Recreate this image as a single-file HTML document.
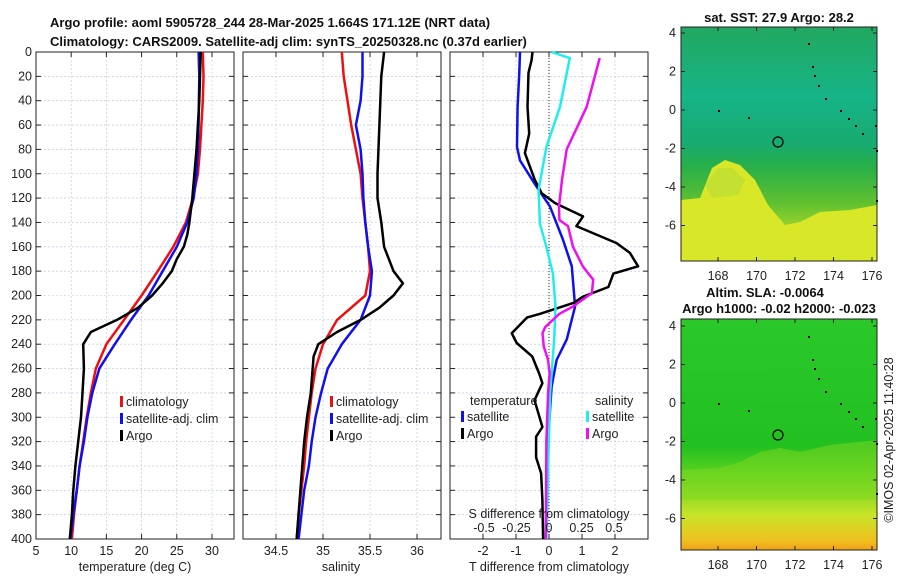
<!DOCTYPE html>
<html><head><meta charset="utf-8"><style>
body{margin:0;background:#fff;}
svg{display:block;font-family:"Liberation Sans","DejaVu Sans",sans-serif;}
.t{font-size:12.5px;fill:#222;}
.b{font-size:13px;font-weight:bold;fill:#111;}
</style></head><body>
<svg id="c" width="900" height="580" viewBox="0 0 900 580">
<text class="b" x="50" y="27">Argo profile: aoml 5905728_244 28-Mar-2025 1.664S 171.12E (NRT data)</text>
<text class="b" x="50" y="46">Climatology: CARS2009. Satellite-adj clim: synTS_20250328.nc (0.37d earlier)</text>
<g id="maps">
<defs>
<linearGradient id="g1" x1="0" y1="0" x2="0" y2="1">
<stop offset="0" stop-color="#22a860"/><stop offset="0.3" stop-color="#16b488"/><stop offset="0.5" stop-color="#18aa70"/><stop offset="0.6" stop-color="#28b048"/><stop offset="0.75" stop-color="#60c030"/><stop offset="1" stop-color="#e6ec28"/></linearGradient>
<linearGradient id="g2" x1="0" y1="0" x2="0" y2="1">
<stop offset="0" stop-color="#2ac828"/><stop offset="0.55" stop-color="#22c020"/><stop offset="0.68" stop-color="#60d420"/><stop offset="0.85" stop-color="#c8e428"/><stop offset="0.96" stop-color="#f0c020"/><stop offset="1" stop-color="#f0a018"/></linearGradient>
</defs>
<rect x="681" y="27" width="196" height="234" fill="url(#g1)"/>
<path d="M681,200 L700,198 L712,168 L725,160 L740,165 L755,180 L768,205 L785,225 L800,222 L820,212 L850,210 L877,205 L877,261 L681,261Z" fill="#d8e828"/>
<path d="M705,185 L718,168 L732,168 L745,180 L738,195 L712,198Z" fill="#c4e030"/>
<rect x="681" y="27" width="196" height="234" fill="none" stroke="#222" stroke-width="1"/>
<text class="b" x="779" y="22" text-anchor="middle">sat. SST: 27.9 Argo: 28.2</text>
<rect x="681" y="319" width="196" height="231" fill="url(#g2)"/>
<path d="M681,470 L720,468 L740,462 L760,452 L780,448 L800,452 L830,445 L877,440 L877,500 L681,500Z" fill="#80d820" opacity="0.5"/>
<rect x="681" y="319" width="196" height="231" fill="none" stroke="#222" stroke-width="1"/>
<text class="b" x="765" y="297" text-anchor="middle">Altim. SLA: -0.0064</text>
<text class="b" x="779" y="313" text-anchor="middle">Argo h1000: -0.02 h2000: -0.023</text>
<circle cx="778" cy="142" r="5" fill="none" stroke="#000" stroke-width="1.2"/>
<circle cx="778" cy="435" r="5" fill="none" stroke="#000" stroke-width="1.2"/>
<text class="t" x="893" y="440" transform="rotate(-90 893 440)" text-anchor="middle">©IMOS 02-Apr-2025 11:40:28</text>
</g>
<g id="plots"></g>
</svg>
<script>
const depths=[0,20,40,60,80,100,120,140,160,180,200,220,240,260,280,300,320,340,360,380,400];
const tClim=[28.7,28.8,28.7,28.5,28.3,28.0,27.3,26.3,24.5,22.3,20.0,17.5,15.0,13.5,12.8,12.2,11.7,11.2,10.8,10.4,10.1];
const tSat=[28.1,28.2,28.15,28.1,28.0,27.8,27.4,26.5,25.0,23.0,21.0,18.5,16.2,14.0,13.0,12.3,11.8,11.2,10.8,10.3,9.9];
const argoTDepth=[0,20,40,60,80,100,120,140,150,160,170,180,190,200,210,220,230,240,260,280,300,320,340,360,380,400];
const argoT=[28.4,28.3,28.2,28.0,27.8,27.5,27.2,26.8,26.5,26.0,25.0,24.3,23.0,21.5,19.5,16.5,12.8,11.7,11.8,11.6,11.4,11.0,10.6,10.3,10.1,9.8];
const sClim=[35.2,35.22,35.26,35.3,35.35,35.4,35.42,35.45,35.48,35.5,35.45,35.15,35.0,34.92,34.88,34.85,34.82,34.8,34.77,34.74,34.72];
const sSat=[35.42,35.42,35.4,35.35,35.4,35.42,35.43,35.45,35.48,35.52,35.5,35.4,35.2,35.05,34.98,34.92,34.88,34.85,34.8,34.77,34.74];
const argoSDepth=[0,20,60,100,120,140,160,180,190,200,210,220,230,240,250,280,300,320,340,360,400];
const argoS=[35.65,35.62,35.6,35.58,35.58,35.62,35.65,35.75,35.85,35.75,35.6,35.4,35.15,34.95,34.9,34.87,34.83,34.8,34.78,34.76,34.72];
const dTDepth=[0,17,45,78,89,111,127,154,176,209,236,253,275,319,384,400];
const dTSat=[-0.88,-0.9,-0.95,-0.97,-0.88,-0.37,0.03,0.42,0.69,0.79,0.54,0.23,0.08,-0.03,-0.09,-0.1];
const dTArgoDepth=[0,7,17,45,67,83,105,116,124,135,143,157,165,176,182,193,201,206,215,218,231,239,250,264,272,286,308,316,333,346,368,400];
const dTArgo=[-0.5,-0.53,-0.62,-0.65,-0.6,-0.73,-0.43,-0.22,0.18,1.03,0.83,2.05,2.45,2.7,1.95,1.8,1.03,0.75,-0.27,-0.66,-1.13,-0.98,-0.51,-0.3,-0.2,-0.44,-0.2,-0.39,-0.39,-0.24,-0.2,-0.18];
const dSSatDepth=[0,5,45,78,113,141,160,182,209,236,278,333,400];
const dSSat=[0.02,0.16,0.085,-0.02,-0.08,-0.07,-0.02,0.03,0.05,0.04,0.01,-0.005,-0.02];
const dSArgoDepth=[5,45,80,105,127,138,143,160,176,187,198,209,215,226,231,242,253,264,280,319,400];
const dSArgo=[0.39,0.29,0.136,0.1,0.077,0.08,0.146,0.185,0.26,0.34,0.33,0.185,0.08,-0.03,-0.05,-0.04,-0.007,0.005,-0.007,-0.02,-0.025];
const depthTicks=[0,20,40,60,80,100,120,140,160,180,200,220,240,260,280,300,320,340,360,380,400];
const tTicks=[5,10,15,20,25,30];
const sTicks=[34.5,35,35.5,36];
const dtTicks=[-2,-1,0,1,2];
const dsTicks=[-0.5,-0.25,0,0.25,0.5];
const dsTickLabels=["-0.5","-0.25","0","0.25","0.5"];
const latTicks=[4,2,0,-2,-4,-6];
const lonTicks=[168,170,172,174,176];

const NS="http://www.w3.org/2000/svg";
const G=document.getElementById('plots');
const plotTop=52,plotBot=539;
const y=d=>plotTop+(plotBot-plotTop)*d/400;
function mk(tag,attrs,parent){const e=document.createElementNS(NS,tag);for(const k in attrs)e.setAttribute(k,attrs[k]);(parent||G).appendChild(e);return e;}
function txt(x0,y0,s,anchor,cls){const e=mk('text',{x:x0,y:y0,'text-anchor':anchor||'middle',class:cls||'t'});e.textContent=s;return e;}
function panel(x0,x1,lo,hi,ticks,name,leftLabels){
  const sx=v=>x0+(x1-x0)*(v-lo)/(hi-lo);
  const g=mk('g',{});
  
  
  depthTicks.forEach(d=>{mk('line',{x1:x0,x2:x1,y1:y(d),y2:y(d),stroke:'#b8c0e0','stroke-width':0.6,'stroke-dasharray':'2,2'},g);
    mk('line',{x1:x0,x2:x0+5,y1:y(d),y2:y(d),stroke:'#222'},g);mk('line',{x1:x1-5,x2:x1,y1:y(d),y2:y(d),stroke:'#222'},g);
    if(leftLabels){const t=txt(x0-4,y(d)+4,String(d),'end');g.appendChild(t);}});
  ticks.forEach(v=>{mk('line',{x1:sx(v),x2:sx(v),y1:plotTop,y2:plotBot,stroke:'#b8c0e0','stroke-width':0.6,'stroke-dasharray':'2,2'},g);
    mk('line',{x1:sx(v),x2:sx(v),y1:plotBot,y2:plotBot-5,stroke:'#222'},g);mk('line',{x1:sx(v),x2:sx(v),y1:plotTop,y2:plotTop+5,stroke:'#222'},g);});
  mk('rect',{x:x0,y:plotTop,width:x1-x0,height:plotBot-plotTop,fill:'none',stroke:'#222','stroke-width':1},g);
  return {sx,g};
}
function line(p,xs,ds,color,name,w){
  const pts=xs.map((v,i)=>p.sx(v).toFixed(1)+','+y(ds[i]).toFixed(1)).join(' ');
  const e=mk('polyline',{points:pts,fill:'none',stroke:color,'stroke-width':w||2.5,'stroke-linejoin':'round'},p.g);
  
  
}
function legend(x0,y0,items){items.forEach((it,i)=>{const yy=y0+i*17;mk('rect',{x:x0,y:yy-10,width:3,height:11,fill:it[1]});const t=txt(x0+6,yy,it[0],'start');});}

const p1=panel(36,234,5,33.13,tTicks,'temperature-panel',true);
tTicks.forEach(v=>{const t=txt(p1.sx(v),555,String(v));});
const xt1=txt(135,571,'temperature (deg C)');

line(p1,tClim,depths,'#ee1010','climatology-temperature-line');
line(p1,tSat,depths,'#1010ee','satellite-temperature-line');
line(p1,argoT,argoTDepth,'#000','argo-temperature-line');
legend(120,406,[['climatology','#ee1010'],['satellite-adj. clim','#1010ee'],['Argo','#000']]);

const p2=panel(243,441,34.149,36.255,sTicks,'salinity-panel',false);
sTicks.forEach(v=>{const t=txt(p2.sx(v),555,String(v));});
const xt2=txt(341,571,'salinity');

line(p2,sClim,depths,'#ee1010','climatology-salinity-line');
line(p2,sSat,depths,'#1010ee','satellite-salinity-line');
line(p2,argoS,argoSDepth,'#000','argo-salinity-line');
legend(330,406,[['climatology','#ee1010'],['satellite-adj. clim','#1010ee'],['Argo','#000']]);

const p3=panel(450,648,-3,3,dtTicks,'difference-panel',false);
const sxS=v=>549+130*v;
const p3s={sx:sxS,g:p3.g};
mk('line',{x1:549,x2:549,y1:plotTop,y2:plotBot,stroke:'#333','stroke-width':1,'stroke-dasharray':'1,2'},p3.g);
line(p3,dTSat,dTDepth,'#1010ee','satellite-temperature-difference-line');
line(p3,dTArgo,dTArgoDepth,'#000','argo-temperature-difference-line');
line(p3s,dSSat,dSSatDepth,'#20eeee','satellite-salinity-difference-line');
line(p3s,dSArgo,dSArgoDepth,'#ee10ee','argo-salinity-difference-line');
dtTicks.forEach(v=>{const t=txt(p3.sx(v),555,String(v));});
const xt3=txt(549,571,'T difference from climatology');

dsTicks.forEach((v,i)=>{const t=txt(sxS(v),532,dsTickLabels[i]);});
const xt4=txt(549,518,'S difference from climatology');

txt(470,405,'temperature','start');txt(595,405,'salinity','start');
legend(461,421,[['satellite','#1010ee'],['Argo','#000']]);
legend(586,421,[['satellite','#20eeee'],['Argo','#ee10ee']]);

function mapAxes(yLat4,yBottom,yTopE){
  const k=19.25;
  latTicks.forEach(l=>{const yy=yLat4+(4-l)*k;
    mk('line',{x1:681,x2:685,y1:yy,y2:yy,stroke:'#222'});mk('line',{x1:873,x2:877,y1:yy,y2:yy,stroke:'#222'});
    const t=txt(676,yy+4,String(l),'end');});
  lonTicks.forEach(l=>{const xx=718+(l-168)*k;
    mk('line',{x1:xx,x2:xx,y1:yBottom,y2:yBottom-4,stroke:'#222'});mk('line',{x1:xx,x2:xx,y1:yTopE,y2:yTopE+4,stroke:'#222'});
    const t=txt(xx,yBottom+19,String(l));});
}
mapAxes(33,261,27);
mapAxes(326,550,319);
const isl=[[808,43],[812,66],[814,75],[818,85],[825,98],[840,110],[848,118],[855,125],[862,133],[875,125],[876,150],[876,200],[718,110],[748,117]];
isl.forEach(p=>{[0,293].forEach(o=>{mk('rect',{x:p[0],y:p[1]+o,width:2,height:2,fill:'#000'});});});
</script>
</body></html>
